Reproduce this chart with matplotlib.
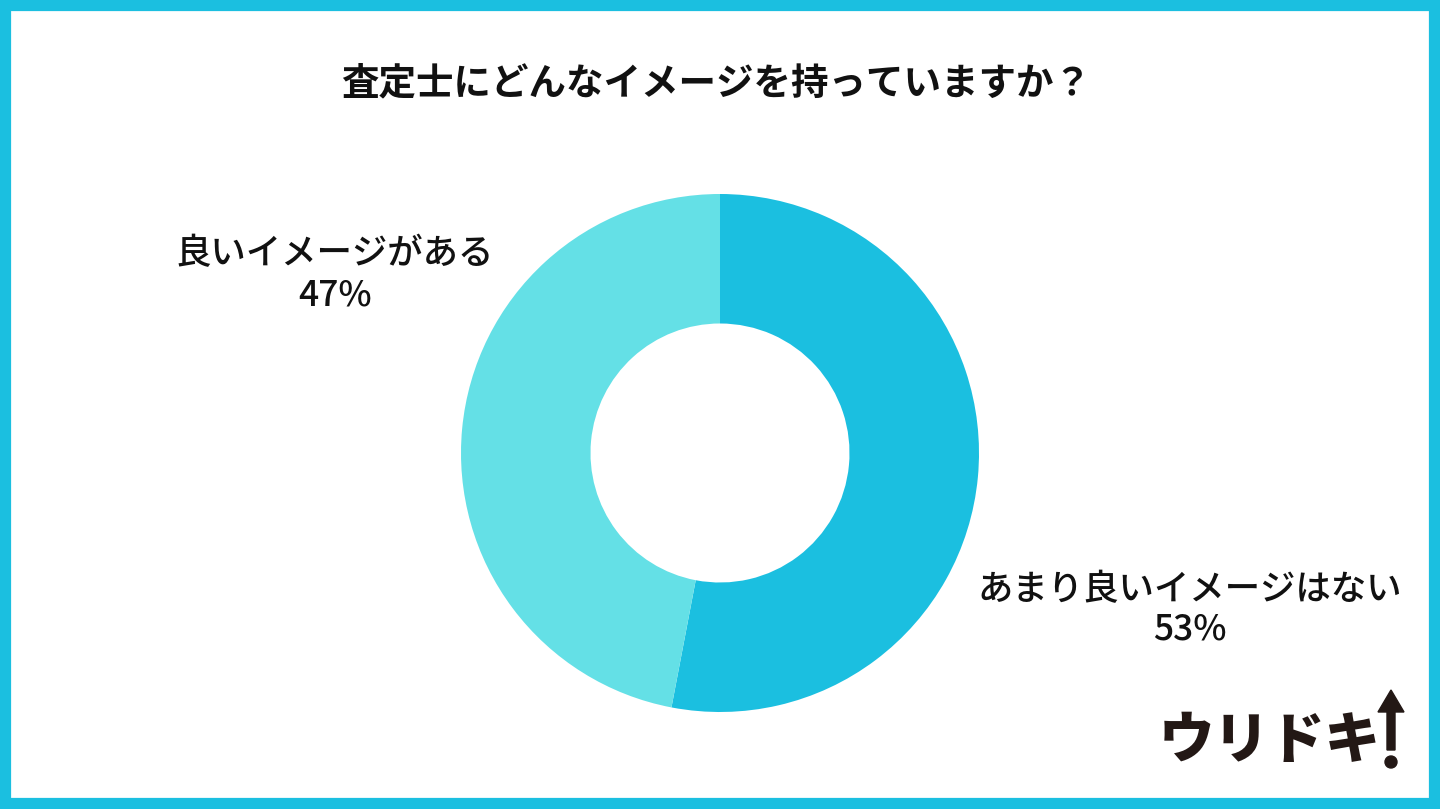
import matplotlib
matplotlib.use("Agg")
import matplotlib.pyplot as plt
from matplotlib.patches import Rectangle, FancyArrow, Circle

plt.rcParams['font.family'] = ['Noto Sans CJK JP', 'DejaVu Sans']

title = "査定士にどんなイメージを持っていますか？"
categories = ["あまり良いイメージはない", "良いイメージがある"]
values = [53, 47]
colors = ["#1BBFE0", "#64E0E6"]

W, H = 1440, 809
fig = plt.figure(figsize=(W / 100, H / 100), dpi=100)
fig.patch.set_facecolor("white")

# border
fig.patches.append(Rectangle((0, 0), 1, 1, transform=fig.transFigure,
                             fill=False, edgecolor="#1BBFE0", linewidth=16))

# donut
cx, cy, r = 720, 453, 259
ax = fig.add_axes([(cx - r) / W, (H - cy - r) / H, 2 * r / W, 2 * r / H])
ax.pie(values, colors=colors, startangle=90, counterclock=False,
       radius=1.0, wedgeprops=dict(width=0.5, edgecolor="none"))
ax.set_xlim(-1, 1)
ax.set_ylim(-1, 1)
ax.set_aspect("equal")
ax.axis("off")

fig.text(716 / W, 1 - 83 / H, title, ha="center", va="center",
         fontsize=27, fontweight="bold", color="#111111")

# labels
label_pos = [(1190, 590, 630), (335, 254, 295)]
for cat, v, (x, y1, y2) in zip(categories, values, label_pos):
    fig.text(x / W, 1 - y1 / H, cat, ha="center", va="center",
             fontsize=25.5, color="#111111", fontweight="medium")
    fig.text(x / W, 1 - y2 / H, f"{v}%", ha="center", va="center",
             fontsize=25.5, color="#111111", fontweight="medium")

# logo
fig.text(1270 / W, 1 - 741 / H, "ウリドキ", ha="center", va="center",
         fontsize=40, fontweight="black", color="#231815")
lax = fig.add_axes([0, 0, 1, 1], facecolor="none")
lax.set_xlim(0, W)
lax.set_ylim(H, 0)
lax.axis("off")
lax.add_patch(FancyArrow(1391, 750, 0, -60, width=8, head_width=26,
                         head_length=22, length_includes_head=True,
                         color="#231815"))
lax.add_patch(Circle((1391, 762), 6, color="#231815"))

fig.savefig("out.png", dpi=100, facecolor="white")
